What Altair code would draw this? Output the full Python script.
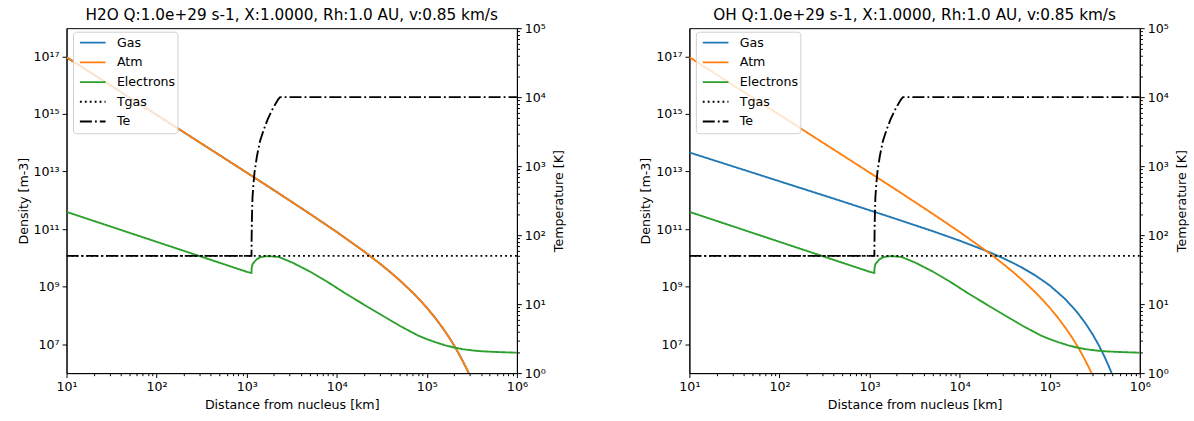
import altair as alt
import pandas as pd

FONT = "DejaVu Sans"

# Radial sample distances (km) with number densities (m^-3) along each profile
atm_r = [10, 20, 50, 100, 200, 500, 1000, 2000, 5000, 1e4, 2e4, 3e4, 4e4, 5e4, 7e4,
         8.5e4, 1e5, 1.2e5, 1.5e5, 1.75e5, 2e5, 2.25e5, 2.5e5, 2.75e5, 3e5]
atm_n = [9.36e16, 2.34e16, 3.74e15, 9.34e14, 2.33e14, 3.71e13, 9.21e12, 2.27e12,
         3.45e11, 7.97e10, 1.70e10, 6.41e9, 3.07e9, 1.67e9, 6.18e8, 3.29e8, 1.87e8,
         9.38e7, 3.70e7, 1.82e7, 9.29e6, 4.91e6, 2.65e6, 1.47e6, 8.2e5]

oh_r = [10, 20, 50, 100, 200, 500, 1000, 2000, 5000, 1e4, 2e4, 3e4, 4e4, 5e4, 7e4,
        1e5, 1.5e5, 2e5, 2.5e5, 3e5, 3.5e5, 4e5, 4.5e5, 5e5]
oh_n = [4.6e13, 2.3e13, 9.2e12, 4.6e12, 2.3e12, 9.18e11, 4.53e11, 2.23e11, 8.56e10,
        3.99e10, 1.73e10, 9.98e9, 6.49e9, 4.50e9, 2.42e9, 1.11e9, 3.63e8, 1.34e8,
        5.31e7, 2.20e7, 9.36e6, 4.09e6, 1.81e6, 8.2e5]

elec_r = [10, 100, 1000, 1130, 1135, 1160, 1220, 1300, 1410, 1550, 1710, 2000, 2290,
          3160, 5010, 7940, 1.26e4, 2.0e4, 3.16e4, 5.01e4, 7.94e4, 1e5, 1.26e5,
          1.58e5, 2.0e5, 2.51e5, 3.16e5, 3.98e5, 6.31e5, 1e6]
elec_n = [3.98e11, 3.63e10, 3.31e9, 3.02e9, 4.47e9, 6.03e9, 7.41e9, 9.12e9, 1.05e10,
          1.12e10, 1.15e10, 1.12e10, 1.07e10, 7.08e9, 3.39e9, 1.45e9, 5.75e8, 2.40e8,
          1.02e8, 4.37e7, 2.04e7, 1.51e7, 1.17e7, 9.33e6, 7.76e6, 6.76e6, 6.17e6,
          5.75e6, 5.37e6, 5.13e6]

# Temperatures (K)
tgas_r = [10, 1e6]
tgas_k = [50, 50]
te_r = [10, 1130, 1140, 1160, 1190, 1222, 1300, 1410, 1550, 1710, 1900, 2100, 2250,
        2350, 1e6]
te_k = [50, 50, 150, 350, 560, 820, 1400, 2340, 3400, 4760, 6400, 8100, 9400, 10000,
        10000]

SERIES = ["Gas", "Atm", "Electrons", "Tgas", "Te"]
COLORS = ["#1f77b4", "#ff7f0e", "#2ca02c", "#000000", "#000000"]
DASHES = [[1, 0], [1, 0], [1, 0], [1.9, 3.1], [12.2, 3.05, 1.9, 3.05]]

TITLE_TEXT = "{} Q:1.0e+29 s-1, X:1.0000, Rh:1.0 AU, v:0.85 km/s"

SUP = str.maketrans("0123456789", "⁰¹²³⁴⁵⁶⁷⁸⁹")


def frame(name, r, v):
    return pd.DataFrame({"series": name, "r": r, "v": v})


def power_labels(exps):
    expr = "''"
    for e in reversed(exps):
        val = float(10 ** e)
        expr = (f"abs(datum.value - {val!r}) < {val * 1e-6!r} ? "
                f"'10{str(e).translate(SUP)}' : ({expr})")
    return expr


MAJOR = "abs(log(datum.value)/LN10 - round(log(datum.value)/LN10)) < 1e-6"

x_ticks = [float(m * 10 ** e) for e in range(1, 6) for m in range(1, 10)] + [1e6]
t_ticks = [float(m * 10 ** e) for e in range(0, 5) for m in range(1, 10)] + [1e5]
d_ticks = [float(10 ** e) for e in range(7, 18, 2)]

axis_style = dict(
    labelFont=FONT, labelFontSize=12.8, labelColor="black",
    titleFont=FONT, titleFontSize=12.8, titleFontWeight="normal", titleColor="black",
    domainColor="black", domainWidth=1, tickColor="black", tickWidth=1,
    grid=False, labelOverlap=False, labelFlush=False,
)

x_axis = alt.Axis(
    values=x_ticks, labelExpr=power_labels(range(1, 7)),
    tickSize={"condition": {"test": MAJOR, "value": 4.5}, "value": 2.6},
    labelPadding=3, title="Distance from nucleus [km]",
    titleX=228.5, titleY=32, titleBaseline="middle", titleAlign="center",
    **axis_style,
)
dens_axis = alt.Axis(
    values=d_ticks, labelExpr=power_labels(range(7, 18, 2)), tickSize=4.5,
    labelPadding=3, title="Density [m-3]",
    titleX=-44, titleY=175, titleAngle=270, titleBaseline="middle", titleAlign="center",
    **axis_style,
)
temp_axis = alt.Axis(
    orient="right", values=t_ticks, labelExpr=power_labels(range(0, 6)),
    tickSize={"condition": {"test": MAJOR, "value": 4.5}, "value": 2.6},
    labelPadding=3, title="Temperature [K]",
    titleX=42, titleY=175, titleAngle=270, titleBaseline="middle", titleAlign="center",
    **axis_style,
)

legend = alt.Legend(
    orient="none", legendX=6.6, legendY=3.6, padding=1.5, title=None,
    strokeColor="#d0d0d0", fillColor="rgba(255,255,255,0.8)", cornerRadius=3,
    labelFont=FONT, labelFontSize=12.8, labelColor="black", labelOffset=10.5,
    symbolType="stroke", symbolSize=680, symbolStrokeWidth=1.9, symbolOffset=4.5,
    clipHeight=19.2, rowPadding=0,
)


def panel(species, gas_r, gas_n):
    x = alt.X("r:Q", scale=alt.Scale(type="log", domain=[10, 1e6], nice=False),
              axis=x_axis)
    color = alt.Color("series:N", scale=alt.Scale(domain=SERIES, range=COLORS),
                      legend=legend, title=None)
    dash = alt.StrokeDash("series:N", scale=alt.Scale(domain=SERIES, range=DASHES),
                          legend=legend, title=None)
    dens_y = alt.Y("v:Q", scale=alt.Scale(type="log", domain=[1e6, 9.55e17], nice=False),
                   axis=dens_axis)
    temp_y = alt.Y("v:Q", scale=alt.Scale(type="log", domain=[1, 1e5], nice=False),
                   axis=temp_axis)

    def line(df, y):
        return alt.Chart(df).mark_line(strokeWidth=1.9, clip=True).encode(
            x=x, y=y, color=color, strokeDash=dash)

    dens = alt.layer(
        line(frame("Gas", gas_r, gas_n), dens_y),
        line(frame("Atm", atm_r, atm_n), dens_y),
        line(frame("Electrons", elec_r, elec_n), dens_y),
    )
    temp = alt.layer(
        line(frame("Tgas", tgas_r, tgas_k), temp_y),
        line(frame("Te", te_r, te_k), temp_y),
    )
    return alt.layer(dens, temp).resolve_scale(y="independent").properties(
        width=457, height=350,
        title=alt.TitleParams(TITLE_TEXT.format(species), font=FONT, fontSize=15.5,
                              fontWeight="normal", color="black", offset=-12.8,
                              anchor="middle", baseline="alphabetic"),
    )


chart = (
    alt.hconcat(panel("H2O", atm_r, atm_n), panel("OH", oh_r, oh_n),
                spacing=175, bounds="flush")
    .resolve_scale(color="independent", strokeDash="independent")
    .configure_view(stroke="black", strokeWidth=1)
    .properties(padding={"left": 16.5, "top": 3.5, "right": 5, "bottom": 5},
                background="white")
)

chart.save("out.html", embed_options={"renderer": "svg", "actions": False})
